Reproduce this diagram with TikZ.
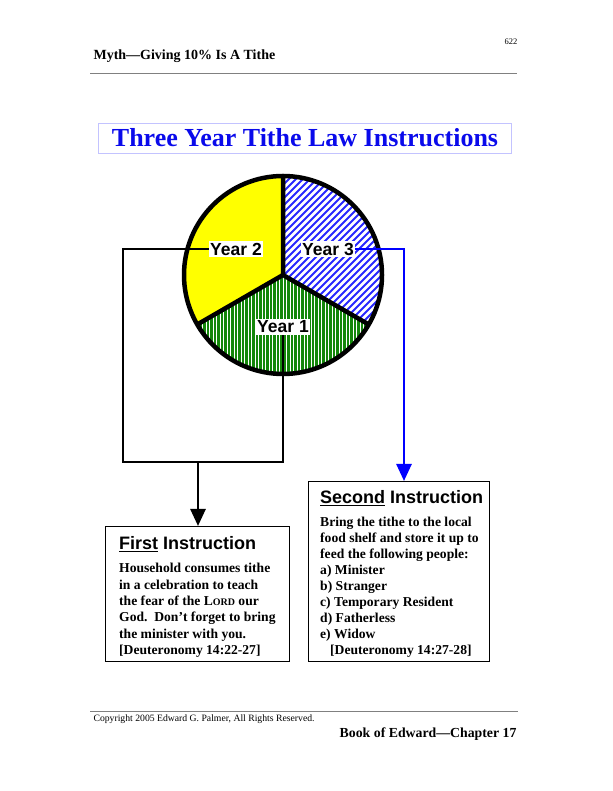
\documentclass[tikz,border=0pt]{standalone}
\usepackage{fontspec}
\setmainfont{Liberation Serif}
\newfontfamily\headsans{Liberation Sans}
\usetikzlibrary{arrows.meta}

\definecolor{titleblue}{RGB}{10,10,235}
\definecolor{titleframe}{RGB}{195,195,255}
\definecolor{hatchblue}{RGB}{40,40,255}
\definecolor{piegreen}{RGB}{20,135,10}
\definecolor{pieyellow}{RGB}{255,255,0}

\newcommand\headfont{\headsans\bfseries\fontsize{18}{20}\selectfont}

\begin{document}
\begin{tikzpicture}[
    x=1pt, y=1pt,
    pie/.style={line width=4.5pt},
    yearlbl/.style={fill=white, inner sep=1.5pt, font=\headsans\bfseries\fontsize{17.5}{18}\selectfont},
    conn/.style={line width=2.6pt, black},
    bconn/.style={line width=2.6pt, blue},
    tip/.style={-{Triangle[length=17pt, width=15pt]}},
    instbox/.style={draw, line width=1pt, anchor=north west, inner sep=0pt},
    insttext/.style={anchor=north west, align=left, inner sep=0pt},
    titlebox/.style={draw=titleframe, line width=0.8pt, minimum width=413pt, minimum height=30pt,
        text=titleblue, font=\bfseries\fontsize{26}{28}\selectfont},
    rulefmt/.style={gray, line width=0.6pt}
]
\useasboundingbox (0,0) rectangle (612,791);

% Page header
\node[anchor=base east, font=\fontsize{8.5}{10}\selectfont] (pgno) at (521,746) {622};
\node[anchor=base west, font=\bfseries\fontsize{14}{16}\selectfont] (hdr) at (90,731) {Myth—Giving 10\% Is A Tithe};
\draw[rulefmt] (90,718) -- (517,718);

% Title
\node[titlebox] (title) at (305,653) {Three Year Tithe Law Instructions};

% Pie
\coordinate (c) at (283,516);
\fill[pieyellow] (c) -- ++(90:99) arc[start angle=90, end angle=210, radius=99] -- cycle;
\begin{scope}
  \clip (c) -- ++(90:99) arc[start angle=90, end angle=-30, radius=99] -- cycle;
  \fill[white] (180,410) rectangle (390,620);
  \foreach \k in {0,...,37} \draw[hatchblue, line width=2pt] ({73+\k*7},410) -- ++(210,210);
\end{scope}
\begin{scope}
  \clip (c) -- ++(210:99) arc[start angle=210, end angle=330, radius=99] -- cycle;
  \fill[piegreen] (180,410) rectangle (390,520);
  \foreach \k in {0,...,58} \draw[white, line width=1pt] ({185+\k*3.5},410) -- ++(0,110);
\end{scope}
\draw[pie] (c) circle[radius=99];
\draw[pie] (c) -- ++(90:99) (c) -- ++(210:99) (c) -- ++(330:99);

% Year labels
\node[yearlbl] (y2) at (236,542) {Year 2};
\node[yearlbl] (y3) at (328,542) {Year 3};
\node[yearlbl] (y1) at (283,464) {Year 1};

% Instruction boxes
\node[instbox, minimum width=184pt, minimum height=135pt] (first) at (105,265) {};
\node[insttext, font=\bfseries\fontsize{13.6}{16.4}\selectfont] (firsttxt) at (119,254.5) {%
  {\headfont\underline{First} Instruction}\\[6.6pt]
  Household consumes tithe\\
  in a celebration to teach\\
  the fear of the L{\fontsize{10}{12}\selectfont ORD} our\\
  God.\ \ Don’t forget to bring\\
  the minister with you.\\
  {[}Deuteronomy 14:22-27{]}};
\node[instbox, minimum width=181pt, minimum height=180pt] (second) at (308,310) {};
\node[insttext, font=\bfseries\fontsize{13.6}{16}\selectfont] (secondtxt) at (320,300.5) {%
  {\headfont\underline{Second} Instruction}\\[7pt]
  Bring the tithe to the local\\
  food shelf and store it up to\\
  feed the following people:\\
  a) Minister\\
  b) Stranger\\
  c) Temporary Resident\\
  d) Fatherless\\
  e) Widow\\
  \hspace*{10pt}{[}Deuteronomy 14:27-28{]}};

% Connectors
\coordinate (lb) at (123,329);
\coordinate (split) at (198,329);
\coordinate (bturn) at (404,541);
\draw[conn] (y2.west) -| (lb) -| (y1.south);
\draw[conn, tip] (split) -- (split |- first.north);
\draw[bconn, tip] (y3.east) -| (second.north -| bturn);

% Page footer
\draw[rulefmt] (90,80) -- (518,80);
\node[anchor=base west, font=\fontsize{9.7}{11}\selectfont] (copy) at (90,69) {Copyright 2005 Edward G. Palmer, All Rights Reserved.};
\node[anchor=base east, font=\bfseries\fontsize{13.8}{16}\selectfont] (book) at (520,53) {Book of Edward—Chapter 17};

\end{tikzpicture}
\end{document}
